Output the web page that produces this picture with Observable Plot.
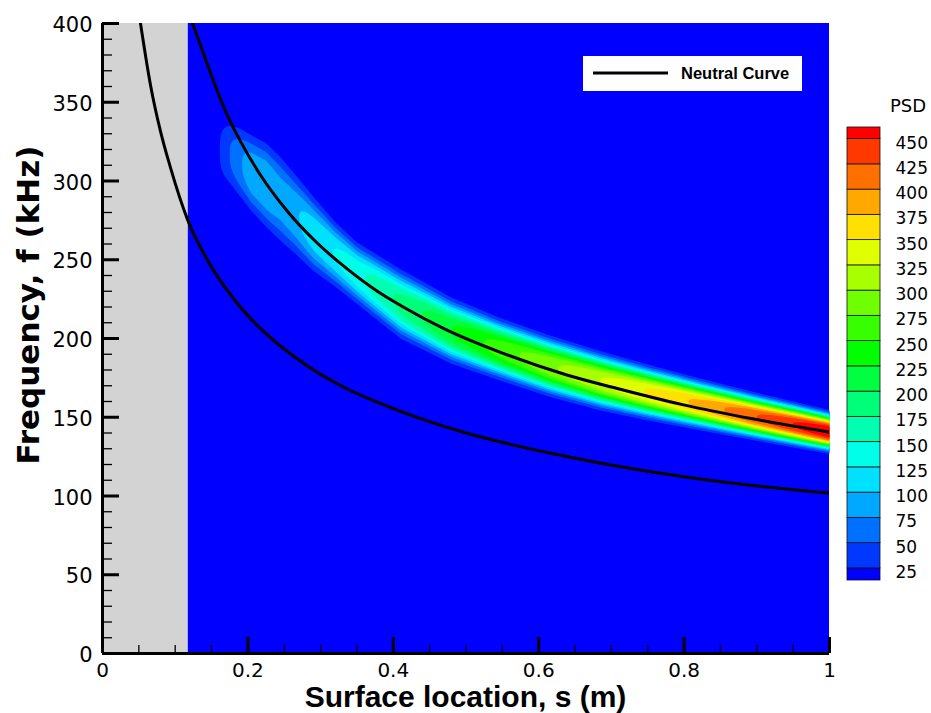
<!DOCTYPE html>
<html><head><meta charset="utf-8">
<script src="https://cdn.jsdelivr.net/npm/d3@7"></script>
<script src="https://cdn.jsdelivr.net/npm/@observablehq/plot@0.6"></script>
<style>
html,body{margin:0;padding:0;background:#fff;}
#wrap{position:relative;width:931px;height:713px;overflow:hidden;}
#wrap svg{position:absolute;top:0;}
</style></head><body><div id="wrap"></div>
<script>
// ---------- data ----------
const sDomain = [0, 1];
const fDomain = [0, 400];
const grayEnd = 0.118;                    // s where the computed region begins
const xTicks = [0, 0.2, 0.4, 0.6, 0.8, 1];
const xTickLabels = ["0", "0.2", "0.4", "0.6", "0.8", "1"];
const xMinorTicks = [0.05, 0.1, 0.15, 0.25, 0.3, 0.35, 0.45, 0.5, 0.55, 0.65, 0.7, 0.75, 0.85, 0.9, 0.95];
const yTicks = [0, 50, 100, 150, 200, 250, 300, 350, 400];
const yMinorTicks = d3.range(0, 401, 10).filter(v => v % 50 !== 0);

// neutral curve, upper branch (s [m], f [kHz])
const upperS = [0.1215, 0.135, 0.153, 0.1715, 0.19, 0.217, 0.254, 0.29, 0.337, 0.378, 0.41, 0.471, 0.543, 0.6376, 0.7015, 0.7978, 0.894, 1.0];
const upperF = [403, 386, 363, 342, 325, 304, 281, 263, 244, 230, 221, 206, 192, 177, 169, 158, 149, 140.5];
// neutral curve, lower branch
const lowerS = [0.0523, 0.066, 0.0798, 0.0935, 0.1174, 0.144, 0.1715, 0.199, 0.2215, 0.279, 0.33, 0.394, 0.4966, 0.612, 0.7015, 0.829, 1.0];
const lowerF = [400, 361, 331.5, 308.5, 275, 250, 230.5, 215, 204.5, 183.5, 169.5, 156.6, 140.5, 127.6, 119.5, 110.3, 101.8];

// PSD band: outer (25) contour edges and ridge peak value along s
const bandS      = [0.158, 0.165, 0.175, 0.190, 0.205, 0.225, 0.245, 0.265, 0.290, 0.320, 0.350, 0.410, 0.480, 0.547, 0.615, 0.685, 0.750, 0.823, 0.900, 0.960, 1.000];
const bandTop    = [322, 332, 335, 333, 329, 324, 315, 304, 290, 274, 261, 244, 226, 213, 202, 192, 183.5, 174.5, 165.5, 159, 154.5];
const bandBottom = [318, 306, 299, 290, 281, 271, 262, 254, 243, 233, 222, 200, 184, 173.3, 163, 154.3, 148, 141.6, 135, 130, 126.8];
const bandPeak   = [18, 32, 50, 72, 92, 98, 88, 96, 114, 126, 142, 182, 225, 262, 295, 325, 352, 382, 425, 455, 475];

// contour levels and colour map
const psdLevels = [25, 50, 75, 100, 125, 150, 175, 200, 225, 250, 275, 300, 325, 350, 375, 400, 425, 450];
const psdColors = ["#0000ff", "#0038ff", "#0070ff", "#00a8ff", "#00e0ff", "#00ffe8", "#00ffb0", "#00ff78",
                   "#00ff40", "#00ff00", "#38ff00", "#70ff00", "#a8ff00", "#e0ff00", "#ffe000", "#ffa800",
                   "#ff7000", "#ff3800", "#ff0000"];
const legendLabel = "Neutral Curve";
const colorbarTitle = "PSD";
const xTitle = "Surface location, s (m)";
const yTitle = "Frequency, f (kHz)";

// ---------- field built from the read band profile ----------
const profileExp = 3;   // flatness of the cross-band profile
function lerpAt(xs, ys, x) {
  const n = xs.length;
  if (x <= xs[0]) return ys[0];
  if (x >= xs[n - 1]) return ys[n - 1];
  const i = d3.bisectRight(xs, x) - 1;
  const t = (x - xs[i]) / (xs[i + 1] - xs[i]);
  return ys[i] + t * (ys[i + 1] - ys[i]);
}
const base = psdLevels[0];
let bandSigma = bandS.map((s, i) => {
  const pk = bandPeak[i], hw = (bandTop[i] - bandBottom[i]) / 2;
  return pk > base * 1.05 ? hw / Math.pow(Math.log(pk / base), 1 / profileExp) : null;
});
for (let i = bandSigma.length - 1; i >= 0; i--) if (bandSigma[i] == null) bandSigma[i] = bandSigma[i + 1];
const bandCenter = bandS.map((s, i) => (bandTop[i] + bandBottom[i]) / 2);
function psdAt(s, f) {
  if (s < bandS[0]) return 0;
  const pk = lerpAt(bandS, bandPeak, s);
  const c = lerpAt(bandS, bandCenter, s);
  const sg = lerpAt(bandS, bandSigma, s);
  const u = Math.abs(f - c) / sg;
  return pk * Math.exp(-Math.pow(u, profileExp));
}

// ---------- main plot ----------
const W = 931, H = 713;
const mL = 102, mR = 102, mT = 23, mB = 60;
const frameW = W - mL - mR, frameH = H - mT - mB;
const colorScale = {type: "threshold", domain: psdLevels, range: psdColors};

const contourMark = (typeof Plot.contour === "function")
  ? Plot.contour({fill: psdAt, x1: grayEnd, x2: sDomain[1], y1: fDomain[0], y2: fDomain[1],
                  thresholds: psdLevels, stroke: "none", pixelSize: 1})
  : null;

const main = Plot.plot({
  width: W, height: H,
  marginLeft: mL, marginRight: mR, marginTop: mT, marginBottom: mB,
  x: {domain: sDomain, axis: null},
  y: {domain: fDomain, axis: null},
  color: colorScale,
  style: {fontFamily: "DejaVu Sans", background: "transparent"},
  marks: [
    Plot.rect([0], {x1: sDomain[0], x2: grayEnd, y1: fDomain[0], y2: fDomain[1], fill: "#d3d3d3"}),
    Plot.rect([0], {x1: grayEnd, x2: sDomain[1], y1: fDomain[0], y2: fDomain[1], fill: "#0000ff"}),
    contourMark,
    Plot.line(upperS.map((s, i) => [s, upperF[i]]), {x: d => d[0], y: d => d[1], stroke: "black", strokeWidth: 3, curve: "monotone-x", clip: true}),
    Plot.line(lowerS.map((s, i) => [s, lowerF[i]]), {x: d => d[0], y: d => d[1], stroke: "black", strokeWidth: 3, curve: "monotone-x", clip: true}),
    Plot.tickY(yMinorTicks, {y: d => d, stroke: "black", strokeWidth: 1.3, insetRight: frameW - 10}),
    Plot.tickY(yTicks, {y: d => d, stroke: "black", strokeWidth: 3, insetRight: frameW - 17}),
    Plot.tickX(xMinorTicks, {x: d => d, stroke: "black", strokeWidth: 1.3, insetTop: frameH - 8}),
    Plot.tickX(xTicks, {x: d => d, stroke: "black", strokeWidth: 3, insetTop: frameH - 16}),
    Plot.ruleX([sDomain[0]], {stroke: "black", strokeWidth: 3}),
    Plot.ruleY([fDomain[0]], {stroke: "black", strokeWidth: 3}),
    Plot.axisY(yTicks, {tickSize: 0, tickPadding: 10, fontSize: 21, fontFamily: "DejaVu Sans", label: null, dy: 2}),
    Plot.axisX(xTicks, {tickSize: 0, tickPadding: 9, fontSize: 20, fontFamily: "DejaVu Sans", label: null,
                        tickFormat: d => xTickLabels[xTicks.indexOf(d)]})
  ].filter(Boolean)
});
main.style.left = "0px";
document.getElementById("wrap").appendChild(main);

const svg = d3.select(main);
svg.append("text")
  .attr("transform", "translate(28,305) rotate(-90)")
  .attr("text-anchor", "middle").attr("dominant-baseline", "central")
  .attr("font-family", "DejaVu Sans").attr("font-weight", "bold").attr("font-size", 31)
  .attr("fill", "black").text(yTitle);
svg.append("text")
  .attr("x", mL + frameW / 2).attr("y", 707)
  .attr("text-anchor", "middle")
  .attr("font-family", "Liberation Sans").attr("font-weight", "bold").attr("font-size", 30)
  .attr("fill", "black").text(xTitle);

// legend box
const lg = svg.append("g");
lg.append("rect").attr("x", 583).attr("y", 56).attr("width", 219).attr("height", 35).attr("fill", "white");
lg.append("line").attr("x1", 593).attr("x2", 668).attr("y1", 73).attr("y2", 73).attr("stroke", "black").attr("stroke-width", 3);
lg.append("text").attr("x", 681).attr("y", 79).attr("text-anchor", "start")
  .attr("font-family", "Liberation Sans").attr("font-weight", "bold").attr("font-size", 16.5)
  .attr("fill", "black").text(legendLabel);

// ---------- colour bar ----------
const cbMin = 13, cbMax = 461.5;
const cbLow = [cbMin, ...psdLevels];
const cbHigh = [...psdLevels, cbMax];
const cb = Plot.plot({
  width: 91, height: H,
  marginLeft: 7, marginRight: 51, marginTop: 127, marginBottom: 133,
  x: {domain: [0, 1], axis: null},
  y: {domain: [cbMin, cbMax], axis: null},
  color: colorScale,
  style: {fontFamily: "DejaVu Sans", background: "transparent"},
  marks: [
    Plot.rect(cbLow.map((v, i) => i), {x1: 0, x2: 1, y1: i => cbLow[i], y2: i => cbHigh[i], fill: i => cbLow[i], stroke: "#111", strokeWidth: 0.8}),
    Plot.text(psdLevels, {x: 1, y: d => d, text: d => String(d), dx: 15, dy: 4, textAnchor: "start", fontSize: 17, fontFamily: "DejaVu Sans", fill: "black"})
  ]
});
cb.style.left = "840px";
document.getElementById("wrap").appendChild(cb);
d3.select(cb).append("text").attr("x", 68).attr("y", 112).attr("text-anchor", "middle")
  .attr("font-family", "DejaVu Sans").attr("font-size", 18).attr("fill", "black").text(colorbarTitle);
</script>
</body></html>
